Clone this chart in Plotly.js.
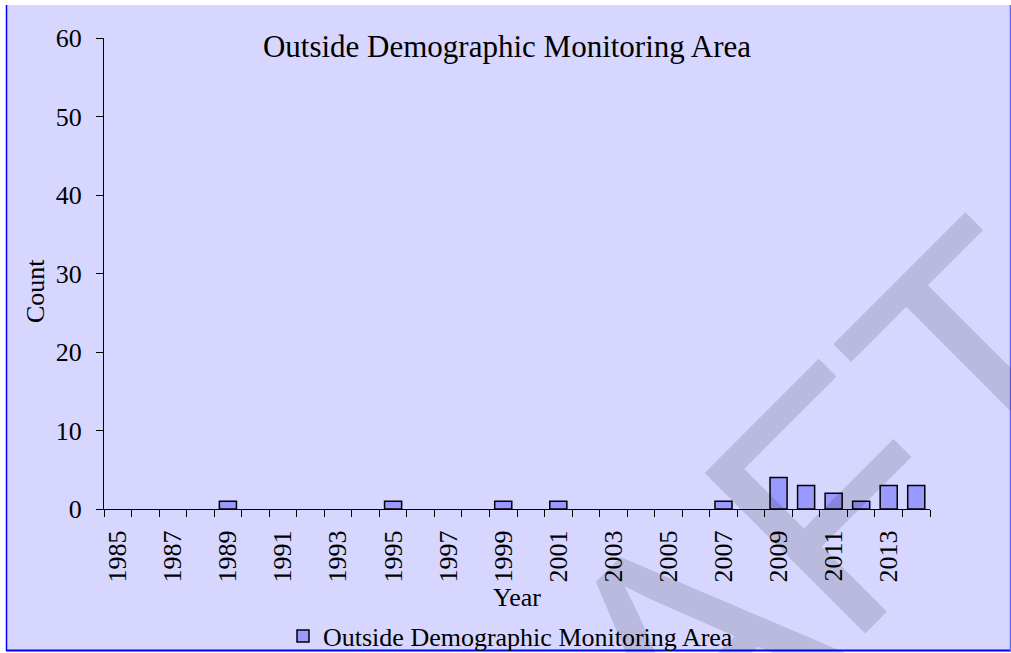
<!DOCTYPE html>
<html>
<head>
<meta charset="utf-8">
<script src="https://cdn.plot.ly/plotly-3.0.1.min.js"></script>
<style>
html,body{margin:0;padding:0;background:#ffffff;}
#chart{width:1011px;height:653px;}
</style>
</head>
<body>
<div id="chart"></div>
<script>
// ---- data ----
const years = [1985,1986,1987,1988,1989,1990,1991,1992,1993,1994,1995,1996,1997,1998,1999,
               2000,2001,2002,2003,2004,2005,2006,2007,2008,2009,2010,2011,2012,2013,2014];
const counts = [0,0,0,0,1,0,0,0,0,0,1,0,0,0,1,
                0,1,0,0,0,0,0,1,0,4,3,2,1,3,3];
const seriesName = "Outside Demographic Monitoring Area";
const chartTitle = "Outside Demographic Monitoring Area";
const xTitle = "Year";
const yTitle = "Count";
const xTickVals = [1985,1987,1989,1991,1993,1995,1997,1999,2001,2003,2005,2007,2009,2011,2013];
const xTickText = ["1985","1987","1989","1991","1993","1995","1997","1999","2001","2003","2005","2007","2009","2011","2013"];
const yTickVals = [0,10,20,30,40,50,60];
const yTickText = ["0","10","20","30","40","50","60"];
const watermarkText = "DRAFT";

// ---- layout helpers ----
const FIG_W = 1011, FIG_H = 653;
const M = {l:104, r:81, t:38, b:144, autoexpand:false};
const PW = FIG_W - M.l - M.r, PH = FIG_H - M.t - M.b;
const px2x = p => (p - M.l) / PW;
const py2y = p => (FIG_H - M.b - p) / PH;

const serif = "Liberation Serif, Times New Roman, serif";

const trace = {
  type: "bar",
  x: years,
  y: counts.map(v => (v === 0 ? null : v)),
  name: seriesName,
  width: 0.62,
  marker: {color: "#9999ff", line: {color: "#000000", width: 1.5}},
  showlegend: true,
  hoverinfo: "x+y"
};

const layout = {
  width: FIG_W, height: FIG_H,
  margin: M,
  paper_bgcolor: "#ffffff",
  plot_bgcolor: "#d6d6ff",
  font: {family: serif, color: "#000000", size: 26},
  title: {
    text: chartTitle,
    font: {family: serif, size: 31, color: "#000000"},
    xref: "container", yref: "container",
    x: 507/FIG_W, y: 1 - 46/FIG_H, xanchor: "center", yanchor: "middle"
  },
  xaxis: {
    type: "linear",
    range: [1984.5, 2014.5],
    tickmode: "array",
    tickvals: xTickVals,
    ticktext: xTickText,
    tickangle: -90,
    ticks: "",
    ticklabelstandoff: 10,
    tickfont: {family: serif, size: 26},
    minor: {tickmode: "linear", tick0: 1984.5, dtick: 1, ticks: "outside", ticklen: 7, tickwidth: 1, tickcolor: "#000000", showgrid: false},
    showline: true, linecolor: "#000000", linewidth: 1,
    showgrid: false, zeroline: false,
    automargin: false,
    title: {text: xTitle, font: {family: serif, size: 26}, standoff: 6},
    fixedrange: true
  },
  yaxis: {
    range: [0, 60],
    tickmode: "array",
    tickvals: yTickVals,
    ticktext: yTickText,
    ticks: "outside", ticklen: 7, tickwidth: 1, tickcolor: "#000000",
    ticklabelstandoff: 9,
    tickfont: {family: serif, size: 26},
    showline: true, linecolor: "#000000", linewidth: 1,
    showgrid: false, zeroline: false,
    automargin: false,
    fixedrange: true
  },
  legend: {
    orientation: "h",
    x: px2x(283), xanchor: "left",
    y: py2y(636), yanchor: "middle",
    bgcolor: "rgba(0,0,0,0)",
    font: {family: serif, size: 26}
  },
  shapes: [
    {type: "rect", xref: "paper", yref: "paper", layer: "below",
     x0: px2x(6), x1: px2x(1011), y0: py2y(5), y1: py2y(651),
     fillcolor: "#d6d6ff", line: {width: 0}},
    {type: "line", xref: "paper", yref: "paper", layer: "above",
     x0: px2x(6.5), x1: px2x(6.5), y0: py2y(5), y1: py2y(651),
     line: {color: "#0000ff", width: 1.5}},
    {type: "line", xref: "paper", yref: "paper", layer: "above",
     x0: px2x(6), x1: px2x(1011), y0: py2y(650.5), y1: py2y(650.5),
     line: {color: "#0000ff", width: 2}},
    {type: "line", xref: "paper", yref: "paper", layer: "above",
     x0: px2x(1010.5), x1: px2x(1010.5), y0: py2y(5), y1: py2y(651),
     line: {color: "#6666ff", width: 1.5}}
  ],
  annotations: [
    {text: yTitle, xref: "paper", yref: "paper",
     x: px2x(35), y: py2y(291), xanchor: "center", yanchor: "middle",
     textangle: -90, showarrow: false,
     font: {family: serif, size: 26, color: "#000000"}},
    {text: watermarkText, xref: "paper", yref: "paper",
     x: px2x(661), y: py2y(675), xanchor: "center", yanchor: "middle",
     textangle: -45, showarrow: false,
     font: {family: "Liberation Sans, Arial, sans-serif", size: 330, color: "rgba(0,0,0,0.13)"}}
  ]
};

Plotly.newPlot("chart", [trace], layout, {displayModeBar: false, staticPlot: true});
</script>
</body>
</html>
